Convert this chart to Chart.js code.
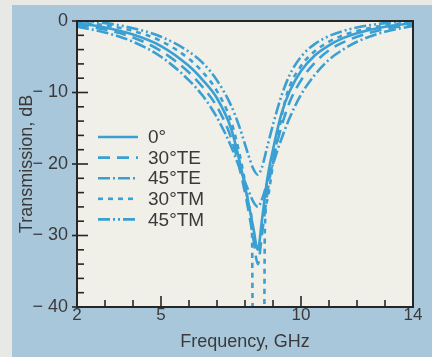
<!DOCTYPE html>
<html><head><meta charset="utf-8">
<script src="https://cdn.jsdelivr.net/npm/chart.js@4/dist/chart.umd.min.js"></script>
<style>
html,body{margin:0;padding:0;background:#e8e9e5;width:432px;height:357px;overflow:hidden}
#panel{position:absolute;left:12px;top:5px;width:420px;height:352px;background:#a9c7db}
canvas{display:block}
</style></head>
<body><div id="panel"><canvas id="c" width="420" height="352"></canvas></div>
<script>
// ---- data (frequency in GHz, transmission in dB) ----
const seriesNames = ['0°', '30°TE', '45°TE', '30°TM', '45°TM'];

const freq0  = [2, 3, 4, 5, 6, 6.5, 7, 7.5, 7.8, 8.1, 8.3, 8.46, 8.6, 8.8, 9, 9.3, 9.6, 10, 10.5, 11, 11.5, 12, 13, 14];
const db0    = [-0.3, -0.9, -1.9, -3.5, -6.3, -8.3, -10.8, -15, -19.5, -25, -29, -32, -28, -22, -18, -13, -9.8, -7, -4.8, -3.4, -2.4, -1.7, -0.8, -0.3];

const freq30TE = [2, 3, 4, 5, 6, 6.5, 7, 7.5, 7.8, 8.1, 8.3, 8.46, 8.6, 8.8, 9, 9.3, 9.6, 10, 10.5, 11, 11.5, 12, 13, 14];
const db30TE   = [-0.5, -1.2, -2.3, -4.2, -7.2, -9.3, -12, -16.3, -20.5, -26, -30.5, -34, -30, -24, -19.5, -14.8, -11.3, -8.3, -5.8, -4.1, -3, -2.2, -1.1, -0.5];

const freq45TE = [2, 3, 4, 5, 6, 6.5, 7, 7.5, 7.8, 8.1, 8.3, 8.46, 8.6, 8.8, 9, 9.3, 9.6, 10, 10.5, 11, 11.5, 12, 13, 14];
const db45TE   = [-0.8, -1.6, -2.9, -5, -8.3, -10.5, -13.5, -17.5, -20.5, -23.5, -25.3, -26, -25, -22.5, -20, -16.5, -13.5, -10.3, -7.5, -5.4, -4, -2.9, -1.5, -0.7];

const freq30TM = [2, 3, 4, 5, 6, 6.5, 7, 7.5, 7.8, 8, 8.15, 8.25, 8.28, 8.68, 8.71, 8.8, 9, 9.2, 9.5, 10, 10.5, 11, 11.5, 12, 13, 14];
const db30TM   = [-0.2, -0.6, -1.4, -2.8, -5.3, -7.2, -9.8, -14, -18.5, -22.5, -26, -29, -45, -45, -29, -25, -20, -15.5, -10.2, -6.3, -4.2, -2.9, -2, -1.4, -0.6, -0.2];

const freq45TM = [2, 3, 4, 5, 6, 6.5, 7, 7.5, 7.8, 8.1, 8.3, 8.46, 8.6, 8.8, 9, 9.3, 9.6, 10, 10.5, 11, 11.5, 12, 13, 14];
const db45TM   = [0, -0.3, -1, -2.2, -4.3, -5.9, -8.3, -11.8, -14.8, -18.5, -20.7, -21.5, -20.5, -17.5, -14.5, -10.5, -7.5, -5, -3.2, -2.1, -1.4, -0.9, -0.3, 0];

const xTickValues = [2, 5, 10, 14];
const xMinorTicks = [3, 4, 6, 7, 8, 9, 11, 12, 13];
const yTickValues = [0, -10, -20, -30, -40];
const yTickLabels = ['0', '\u2212 10', '\u2212 20', '\u2212 30', '\u2212 40'];
const yMinorTicks = [-2, -4, -6, -8, -12, -14, -16, -18, -22, -24, -26, -28, -32, -34, -36, -38];

// ---- styling ----
const LINE = '#3a9fd2';
const FONT = "'Liberation Sans', Arial, Helvetica, sans-serif";
const TEXT = '#3a3a3a';
const dashes = [[], [12, 7], [12, 3, 2, 3], [5, 5], [12, 3, 2, 3, 2, 3]];

const pairs = (xs, ys) => xs.map((x, i) => ({x: x, y: ys[i]}));
const seriesData = [pairs(freq0, db0), pairs(freq30TE, db30TE), pairs(freq45TE, db45TE), pairs(freq30TM, db30TM), pairs(freq45TM, db45TM)];

const framePlugin = {
  id: 'frame',
  beforeDraw(chart) {
    const {ctx, chartArea: a} = chart;
    ctx.save();
    ctx.fillStyle = '#f0efe8';
    ctx.fillRect(a.left, a.top, a.right - a.left, a.bottom - a.top);
    ctx.restore();
  },
  afterDatasetsDraw(chart) {
    const {ctx, chartArea: a, scales: {x, y}} = chart;
    ctx.save();
    ctx.strokeStyle = '#262626';
    ctx.lineWidth = 2;
    ctx.strokeRect(a.left, a.top, a.right - a.left, a.bottom - a.top);
    ctx.lineWidth = 1.6;
    const seg = (x1, y1, x2, y2) => { ctx.beginPath(); ctx.moveTo(x1, y1); ctx.lineTo(x2, y2); ctx.stroke(); };
    yTickValues.forEach(v => { const p = y.getPixelForValue(v); seg(a.left - 5, p, a.left + 11, p); });
    yMinorTicks.forEach(v => { const p = y.getPixelForValue(v); seg(a.left, p, a.left + 7, p); });
    xTickValues.forEach(v => { const p = x.getPixelForValue(v); seg(p, a.bottom, p, a.bottom - 11); });
    xMinorTicks.forEach(v => { const p = x.getPixelForValue(v); seg(p, a.bottom, p, a.bottom - 7); });

    // legend (inside the plot, left side), built from the datasets
    ctx.font = '19px ' + FONT;
    ctx.textBaseline = 'middle';
    ctx.textAlign = 'left';
    chart.data.datasets.forEach((ds, i) => {
      const yy = a.top + 116 + i * 20.6;
      ctx.strokeStyle = ds.borderColor;
      ctx.lineWidth = ds.borderWidth;
      ctx.setLineDash(ds.borderDash);
      seg(a.left + 21, yy, a.left + 61, yy);
      ctx.setLineDash([]);
      ctx.fillStyle = TEXT;
      ctx.fillText(ds.label, a.left + 71, yy + 1);
    });
    ctx.restore();
  }
};

new Chart(document.getElementById('c'), {
  type: 'line',
  data: {
    datasets: seriesNames.map((name, i) => ({
      label: name,
      data: seriesData[i],
      borderColor: LINE,
      backgroundColor: LINE,
      borderWidth: 2.6,
      borderDash: dashes[i],
      pointRadius: 0,
      cubicInterpolationMode: 'monotone',
      fill: false
    }))
  },
  options: {
    responsive: false,
    animation: false,
    layout: {padding: {left: 0, top: 16, right: 19, bottom: 0}},
    scales: {
      x: {
        type: 'linear', min: 2, max: 14,
        afterBuildTicks: s => { s.ticks = xTickValues.map(v => ({value: v})); },
        afterFit: s => { s.height = 50; },
        grid: {display: false},
        border: {display: false},
        ticks: {color: TEXT, font: {family: FONT, size: 17}, padding: -10, maxRotation: 0, autoSkip: false,
                callback: v => String(v)},
        title: {display: true, text: 'Frequency, GHz', color: TEXT, font: {family: FONT, size: 18}, padding: {top: 0, bottom: 4}}
      },
      y: {
        type: 'linear', min: -40, max: 0,
        afterBuildTicks: s => { s.ticks = yTickValues.map(v => ({value: v})); },
        afterFit: s => { s.width = 65; },
        grid: {display: false},
        border: {display: false},
        ticks: {color: TEXT, font: {family: FONT, size: 18}, padding: 1, crossAlign: 'near',
                callback: v => yTickLabels[yTickValues.indexOf(v)]},
        title: {display: true, text: 'Transmission, dB', color: TEXT, font: {family: FONT, size: 18}, padding: {top: 4, bottom: 0}}
      }
    },
    plugins: {
      legend: {display: false},
      tooltip: {enabled: false}
    }
  },
  plugins: [framePlugin]
});
</script></body></html>
